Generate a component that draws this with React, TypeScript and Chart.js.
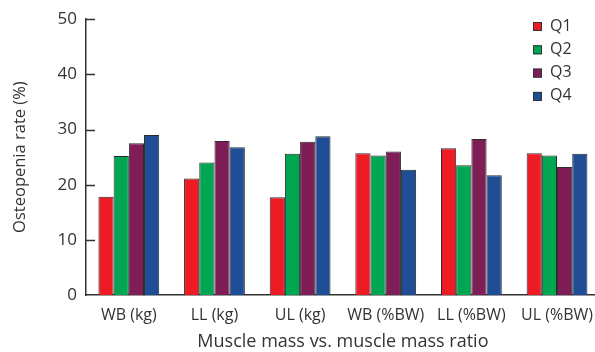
import React, { useEffect, useRef } from 'react';
import { Chart, registerables } from 'chart.js';

Chart.register(...registerables);

const categories = ['WB (kg)', 'LL (kg)', 'UL (kg)', 'WB (%BW)', 'LL (%BW)', 'UL (%BW)'];
const seriesLabels = ['Q1', 'Q2', 'Q3', 'Q4'];
const q1 = [17.8, 21.1, 17.7, 25.7, 26.6, 25.7];
const q2 = [25.2, 24.0, 25.6, 25.3, 23.5, 25.3];
const q3 = [27.5, 27.9, 27.8, 26.0, 28.3, 23.2];
const q4 = [29.0, 26.8, 28.8, 22.7, 21.7, 25.6];
const yMin = 0;
const yMax = 50;
const yStep = 10;
const yTitle = 'Osteopenia rate (%)';
const xTitle = 'Muscle mass vs. muscle mass ratio';

const colors = ['#ED1C24', '#00A651', '#7F1D56', '#1F4E96'];
const textColor = '#333';
const fontFamily = '"Open Sans", "Noto Sans", sans-serif';

const innerTicks = {
  id: 'innerTicks',
  afterDraw(chart: any) {
    const { ctx, scales } = chart;
    const y = scales.y;
    const x0 = chart.chartArea.left;
    ctx.save();
    ctx.strokeStyle = textColor;
    ctx.lineWidth = 1.5;
    y.ticks.forEach((t: any) => {
      if (t.value === yMin) return;
      const py = Math.round(y.getPixelForValue(t.value)) + 0.5;
      ctx.beginPath();
      ctx.moveTo(x0, py);
      ctx.lineTo(x0 + 9, py);
      ctx.stroke();
    });
    ctx.restore();
  },
};

const boxLegend = {
  id: 'boxLegend',
  afterDraw(chart: any) {
    const { ctx } = chart;
    const bx = 533;
    const tx = 550;
    const y0 = 26;
    const dy = 23.3;
    ctx.save();
    ctx.font = `16px ${fontFamily}`;
    ctx.textBaseline = 'middle';
    ctx.textAlign = 'left';
    chart.data.datasets.forEach((ds: any, i: number) => {
      const cy = y0 + i * dy;
      ctx.fillStyle = ds.backgroundColor;
      ctx.fillRect(bx, cy - 4, 9, 9);
      ctx.strokeStyle = '#333';
      ctx.lineWidth = 1;
      ctx.strokeRect(bx + 0.5, cy - 3.5, 8, 8);
      ctx.fillStyle = textColor;
      ctx.fillText(ds.label, tx, cy);
    });
    ctx.restore();
  },
};

export default function App() {
  const ref = useRef<HTMLCanvasElement | null>(null);

  useEffect(() => {
    if (!ref.current) return;
    const series = [q1, q2, q3, q4];
    const chart = new Chart(ref.current, {
      type: 'bar',
      data: {
        labels: categories,
        datasets: series.map((d, i) => ({
          label: seriesLabels[i],
          data: d,
          backgroundColor: colors[i],
          borderColor: '#2b2b2b',
          borderWidth: 1,
          categoryPercentage: 0.71,
          barPercentage: 1,
        })),
      },
      options: {
        animation: false,
        responsive: false,
        devicePixelRatio: 1,
        layout: { padding: { top: 16, left: 0, right: 0, bottom: 0 } },
        plugins: { legend: { display: false }, tooltip: { enabled: false } },
        scales: {
          x: {
            grid: { display: false, drawTicks: false },
            border: { display: true, color: textColor, width: 1.5 },
            ticks: { color: textColor, font: { family: fontFamily, size: 16 }, padding: 11, maxRotation: 0 },
            title: {
              display: true,
              text: xTitle,
              color: textColor,
              font: { family: fontFamily, size: 18, lineHeight: 1 },
              padding: { top: 0, bottom: 1 },
            },
            afterFit: (s: any) => { s.height = 57; },
          },
          y: {
            min: yMin,
            max: yMax,
            grid: { display: false, drawTicks: false },
            border: { display: true, color: textColor, width: 1.5 },
            ticks: { stepSize: yStep, color: textColor, font: { family: fontFamily, size: 17 }, padding: 9 },
            title: {
              display: true,
              text: yTitle,
              color: textColor,
              font: { family: fontFamily, size: 16.5, lineHeight: 1 },
              padding: { top: 12, bottom: 0 },
            },
            afterFit: (s: any) => { s.width = 86; },
          },
        },
      },
      plugins: [innerTicks, boxLegend],
    });
    return () => chart.destroy();
  }, []);

  return (
    <div style={{ position: 'absolute', left: 0, top: 0, width: 595, height: 352, overflow: 'hidden', background: '#fff' }}>
      <canvas ref={ref} width={604} height={352} style={{ display: 'block', width: 604, height: 352 }} />
    </div>
  );
}
